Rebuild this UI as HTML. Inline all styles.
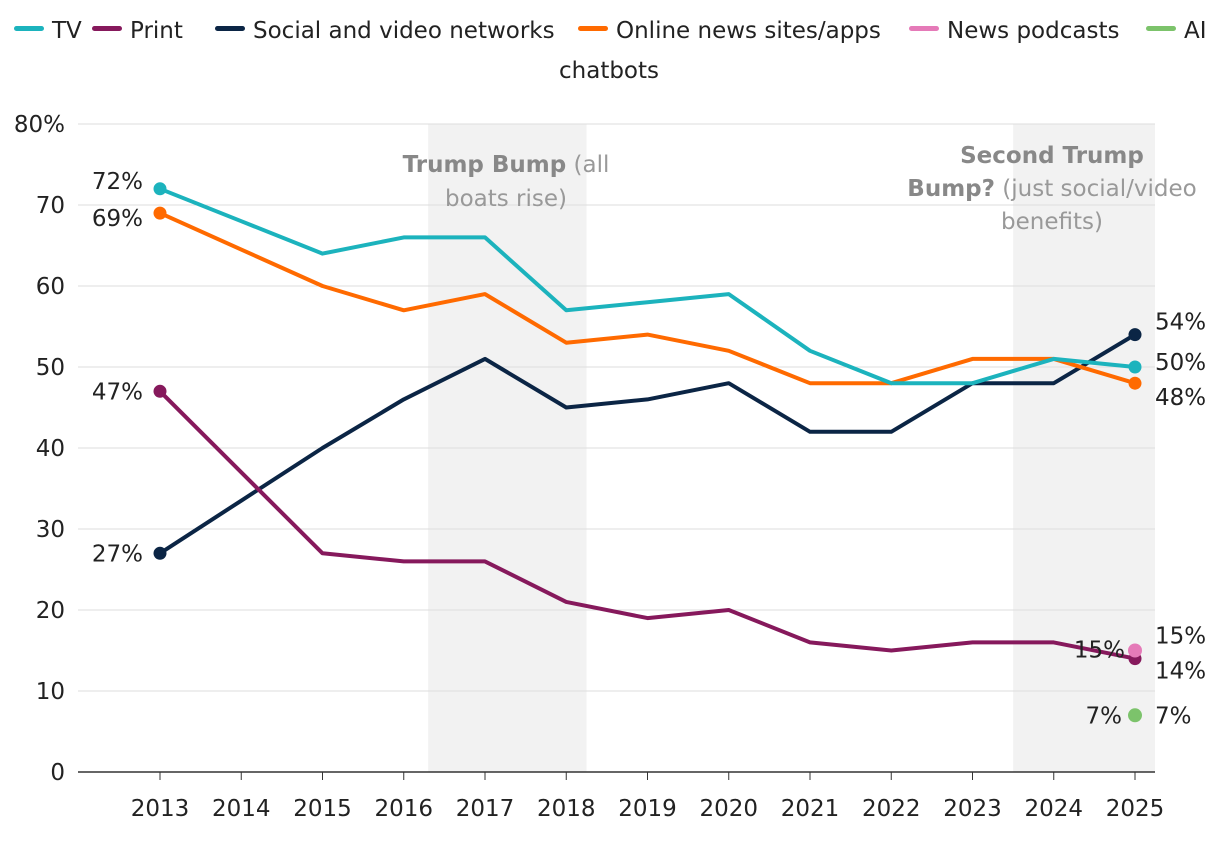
<!DOCTYPE html>
<html><head><meta charset="utf-8"><style>
body{margin:0;background:#fff;font-family:"DejaVu Sans",sans-serif;}
svg text{font-family:"DejaVu Sans","Liberation Sans",sans-serif;}
</style></head><body>
<svg id="chart" width="1220" height="840">
<g id="bands"></g><g id="grid"></g><g id="lines"></g><g id="labels"></g>
<g id="legend"></g>
</svg>
<script>
const years=[2013,2014,2015,2016,2017,2018,2019,2020,2021,2022,2023,2024,2025];
const tv=[72,68,64,66,66,57,58,59,52,48,48,51,50];
const print=[47,37,27,26,26,21,19,20,16,15,16,16,14];
const social=[27,33.5,40,46,51,45,46,48,42,42,48,48,54];
const online=[69,64.5,60,57,59,53,54,52,48,48,51,51,48];
const podcasts2025=[15];
const ai2025=[7];
const yTicks=[0,10,20,30,40,50,60,70,80];
const NS='http://www.w3.org/2000/svg';
const FS=23;
const X=y=>160+(y-2013)*81.25, Y=v=>772-v*8.1;
function el(t,a,p,txt){const e=document.createElementNS(NS,t);for(const k in a)e.setAttribute(k,a[k]);if(txt!==undefined)e.textContent=txt;document.getElementById(p).appendChild(e);return e;}
let b=el('rect',{x:X(2016.3),y:124,width:X(2018.25)-X(2016.3),height:648,fill:'#f2f2f2'},'bands');

b=el('rect',{x:X(2023.5),y:124,width:1155-X(2023.5),height:648,fill:'#f2f2f2'},'bands');

yTicks.forEach(v=>{
 const l=el('line',{x1:78,x2:1155,y1:Y(v),y2:Y(v),stroke:v===0?'#333':'#ddd','stroke-width':v===0?1.5:1},'grid');
 
 const t=el('text',{x:65,y:Y(v)+8,'text-anchor':'end','font-size':FS,fill:'#222'},'grid',v===80?'80%':v);
 
});
years.forEach(y=>{
 const k=el('line',{x1:X(y),x2:X(y),y1:772,y2:780,stroke:'#333'},'grid');
 
 const t=el('text',{x:X(y),y:816,'text-anchor':'middle','font-size':FS,fill:'#222'},'grid',y);
 
});
[['Trump Bump',' (all',506,172],['','boats rise)',506,206]].forEach(a=>{
 const t=el('text',{x:a[2],y:a[3],'text-anchor':'middle','font-size':FS,fill:'#999'},'labels');
 
 if(a[0]){const s=document.createElementNS(NS,'tspan');s.setAttribute('font-weight','bold');s.setAttribute('fill','#888');s.textContent=a[0];t.appendChild(s);}
 const s2=document.createElementNS(NS,'tspan');s2.textContent=a[1];t.appendChild(s2);
});
[['Second Trump','',1052,163],['Bump?',' (just social/video',1052,196],['','benefits)',1052,229]].forEach(a=>{
 const t=el('text',{x:a[2],y:a[3],'text-anchor':'middle','font-size':FS,fill:'#999'},'labels');
 
 if(a[0]){const s=document.createElementNS(NS,'tspan');s.setAttribute('font-weight','bold');s.setAttribute('fill','#888');s.textContent=a[0];t.appendChild(s);}
 if(a[1]){const s2=document.createElementNS(NS,'tspan');s2.textContent=a[1];t.appendChild(s2);}
});
const series=[['social',social,'#0b2545'],['print',print,'#86195c'],['online',online,'#ff6a00'],['tv',tv,'#1cb3bd']];
series.forEach(s=>{
 const p=el('polyline',{points:s[1].map((v,i)=>X(years[i])+','+Y(v)).join(' '),fill:'none',stroke:s[2],'stroke-width':4,'stroke-linejoin':'round'},'lines');
 
 [0,s[1].length-1].forEach(i=>{
  const c=el('circle',{cx:X(years[i]),cy:Y(s[1][i]),r:6.5,fill:s[2]},'lines');
  
 });
});
let c=el('circle',{cx:X(2025),cy:Y(podcasts2025[0]),r:7,fill:'#e57ab8'},'lines');

c=el('circle',{cx:X(2025),cy:Y(ai2025[0]),r:7,fill:'#7cc36b'},'lines');

const vl=[[143,Y(tv[0])+0,'end',tv[0]],[143,Y(online[0])+13,'end',online[0]],[143,Y(print[0])+8,'end',print[0]],[143,Y(social[0])+8,'end',social[0]],
[1155,Y(social[12])-5,'start',social[12]],[1155,Y(tv[12])+3,'start',tv[12]],[1155,Y(online[12])+22,'start',online[12]],
[1155,Y(podcasts2025[0])-7,'start',podcasts2025[0]],[1155,Y(print[12])+20,'start',print[12]],[1155,Y(ai2025[0])+8,'start',ai2025[0]],
[1125,Y(podcasts2025[0])+7,'end',podcasts2025[0]],[1122,Y(ai2025[0])+8,'end',ai2025[0]]];
vl.forEach(a=>{const t=el('text',{x:a[0],y:a[1],'text-anchor':a[2],'font-size':FS,fill:'#222'},'labels',a[3]+'%');
 });
const leg=[['TV','#1cb3bd',14,30],['Print','#86195c',92,30],['Social and video networks','#0b2545',215,30],['Online news sites/apps','#ff6a00',578,30],['News podcasts','#e57ab8',909,30],['AI','#7cc36b',1146,30]];
leg.forEach(a=>{
 const g=el('g',{},'legend');
 const r=document.createElementNS(NS,'rect');r.setAttribute('x',a[2]);r.setAttribute('y',a[3]-4);r.setAttribute('width',30);r.setAttribute('height',5);r.setAttribute('rx',2.5);r.setAttribute('fill',a[1]);g.appendChild(r);
 const t=document.createElementNS(NS,'text');t.setAttribute('x',a[2]+38);t.setAttribute('y',a[3]+8);t.setAttribute('font-size',FS);t.setAttribute('fill','#222');t.textContent=a[0];g.appendChild(t);
});
const t2=el('text',{x:559,y:78,'font-size':FS,fill:'#222'},'legend','chatbots');

</script>
</body></html>
